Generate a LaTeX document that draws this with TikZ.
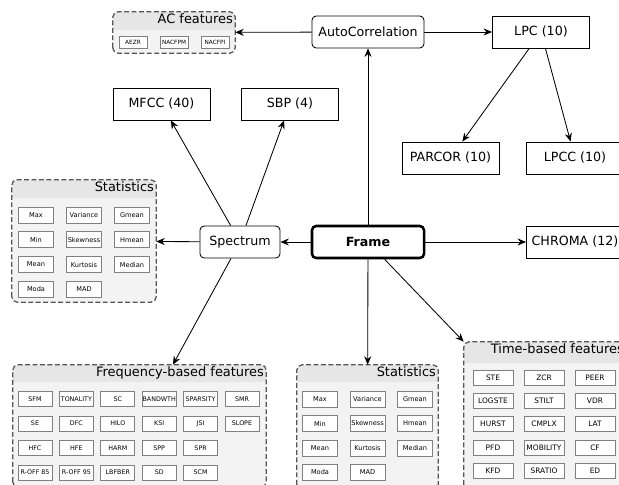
\documentclass[tikz,border=0pt]{standalone}
\usepackage{fontspec}
\setmainfont{DejaVu Sans}
\usepackage{xcolor}
\usetikzlibrary{arrows.meta}
\definecolor{grpbody}{HTML}{F3F3F3}
\definecolor{grpbar}{HTML}{E6E6E6}
\definecolor{grpline}{HTML}{555555}
\newcommand{\featgrp}[7]{% name, x, y, width, height, bar height, title
\node[grp, minimum width=#4, minimum height=#5] (#1) at (#2,#3) {};
\begin{scope}
\clip[rounded corners=4pt] (#1.south west) rectangle (#1.north east);
\fill[grpbar] (#1.north west) rectangle ([yshift=-#6]#1.north east);
\end{scope}
\draw[grpborder] (#1.south west) rectangle (#1.north east);
\node[grptitle, anchor=north east] at (#1.north east) {#7};
}

\begin{document}
\begin{tikzpicture}[x=0.025cm,y=-0.025cm,>={Stealth[length=6pt,width=5pt]}]
\tikzstyle{box}=[draw, line width=0.6pt, minimum width=2.425cm, minimum height=0.8cm, inner sep=2pt, font=\fontsize{9}{11}\selectfont]
\tikzstyle{rbox}=[box, rounded corners=3pt]
\tikzstyle{grp}=[fill=grpbody, rounded corners=4pt, inner sep=0pt]
\tikzstyle{grpborder}=[draw=grpline, line width=0.9pt, dash pattern=on 3.5pt off 1.8pt, rounded corners=4pt]
\tikzstyle{grptitle}=[inner sep=1.5pt, font=\fontsize{9.2}{11}\selectfont]
\tikzstyle{cell}=[draw=gray, fill=white, line width=0.5pt, minimum width=0.875cm, minimum height=0.4cm, inner sep=0pt, font=\fontsize{4.7}{5}\selectfont]
\clip (0,0) rectangle (619,485);

% feature groups
\featgrp{acf}{174}{32.5}{3.05cm}{1.025cm}{0.45cm}{AC features}
\featgrp{stat1}{84}{241}{3.6cm}{3.05cm}{0.45cm}{Statistics}
\featgrp{freq}{139.5}{426}{6.325cm}{3.05cm}{0.43cm}{Frequency-based features}
\featgrp{stat2}{367.5}{427.5}{3.525cm}{3.125cm}{0.43cm}{Statistics}
\featgrp{timef}{545}{416}{4.05cm}{3.7cm}{0.525cm}{Time-based features}

\foreach \t [count=\i from 0] in {AEZR,NACFPM,NACFPI}
  \node[cell, minimum width=0.7cm, minimum height=0.3cm, font=\fontsize{4.1}{5}\selectfont] (ac\i) at ({133+41*\i},42) {\t};
\foreach \t [count=\i from 0] in {Max,Variance,Gmean,Min,Skewness,Hmean,Mean,Kurtosis,Median,Moda,MAD}
  \node[cell] (sa\i) at ({36+48*mod(\i,3)},{215+24.8*int(\i/3)}) {\t};
\foreach \t [count=\i from 0] in {Max,Variance,Gmean,Min,Skewness,Hmean,Mean,Kurtosis,Median,Moda,MAD}
  \node[cell] (sb\i) at ({320+47.5*mod(\i,3)},{399+24.5*int(\i/3)}) {\t};
\foreach \r/\lst in {0/{SFM,TONALITY,SC,BANDWTH,SPARSITY,SMR},1/{SE,DFC,HILO,KSI,JSI,SLOPE},2/{HFC,HFE,HARM,SPP,SPR},3/{R-OFF 85,R-OFF 95,LBFBER,SD,SCM}}
  \foreach \t [count=\c from 0] in \lst
    \node[cell, minimum width=0.85cm, minimum height=0.375cm, font=\fontsize{4.5}{5}\selectfont] (fq\r\c) at ({35+41.4*\c},{399+24.5*\r}) {\t};
\foreach \t [count=\i from 0] in {STE,ZCR,PEER,LOGSTE,STILT,VDR,HURST,CMPLX,LAT,PFD,MOBILITY,CF,KFD,SRATIO,ED}
  \node[cell, minimum width=1.0cm, minimum height=0.375cm, font=\fontsize{5.3}{6}\selectfont] (tm\i) at ({493+51*mod(\i,3)},{377.5+23.3*int(\i/3)}) {\t};

% main blocks
\node[rbox, minimum width=2.8cm] (autoc) at (368,32) {AutoCorrelation};
\node[box] (lpc) at (541,32) {LPC (10)};
\node[box] (mfcc) at (161.5,104) {MFCC (40)};
\node[box] (sbp) at (290,104) {SBP (4)};
\node[box] (parcor) at (450.5,158) {PARCOR (10)};
\node[box] (lpcc) at (575,158) {LPCC (10)};
\node[rbox, minimum width=2.0cm] (spec) at (240,242) {Spectrum};
\node[rbox, minimum width=2.8cm, line width=1.8pt, font=\fontsize{9}{11}\selectfont\bfseries] (frame) at (368,242) {Frame};
\node[box] (chroma) at (575,242) {CHROMA (12)};

\path[->,line width=0.6pt] (frame) edge (spec) edge (autoc) edge (chroma) edge (stat2) edge (timef.north west);
\path[->,line width=0.6pt] (autoc) edge (lpc) edge (acf);
\path[->,line width=0.6pt] (lpc) edge (parcor) edge (lpcc);
\path[->,line width=0.6pt] (spec) edge (mfcc) edge (sbp) edge (stat1) edge (freq);
\end{tikzpicture}
\end{document}
